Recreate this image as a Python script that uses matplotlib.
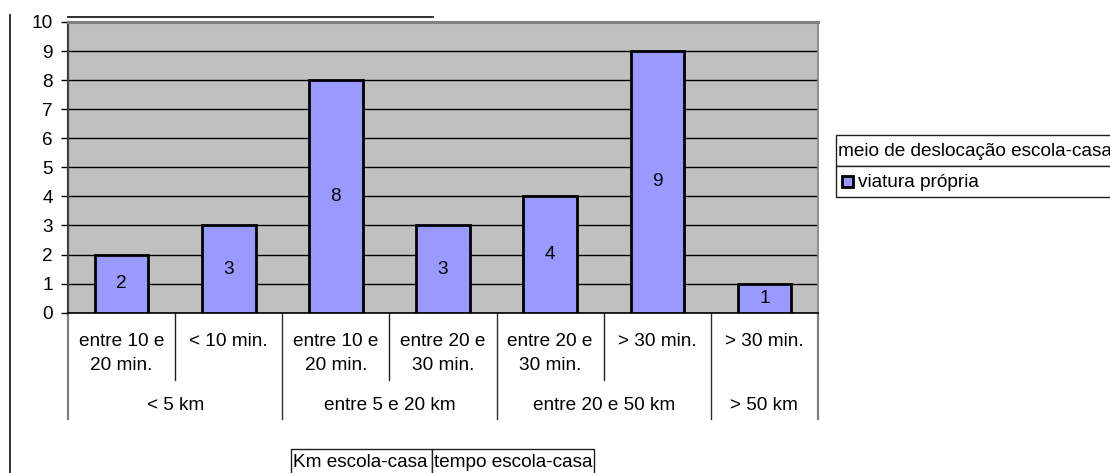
import matplotlib
matplotlib.use("Agg")
import matplotlib.pyplot as plt
from matplotlib import transforms
from matplotlib.patches import Rectangle

plt.rcParams['font.family'] = ['Liberation Sans', 'DejaVu Sans']

# Data
tempo_labels = ["entre 10 e\n20 min.", "< 10 min.", "entre 10 e\n20 min.",
                "entre 20 e\n30 min.", "entre 20 e\n30 min.", "> 30 min.", "> 30 min."]
values = [2, 3, 8, 3, 4, 9, 1]
km_groups = ["< 5 km", "entre 5 e 20 km", "entre 20 e 50 km", "> 50 km"]
km_group_sizes = [2, 2, 2, 1]
series_name = "viatura própria"
legend_title = "meio de deslocação escola-casa"
field_labels = ["Km escola-casa", "tempo escola-casa"]
y_ticks = list(range(0, 11))

W, H = 1110, 473
FS = 13.7
fig = plt.figure(figsize=(W / 100, H / 100), dpi=100)
fig.patch.set_facecolor("white")

# pixel-space overlay for the decorations (y grows downward)
over = fig.add_axes([0, 0, 1, 1], zorder=0)
over.set_xlim(0, W)
over.set_ylim(H, 0)
over.axis("off")

# main plot area
px_left, px_right, px_top, px_bottom = 68, 818, 22, 312.7
ax = fig.add_axes([px_left / W, (H - px_bottom) / H,
                   (px_right - px_left) / W, (px_bottom - px_top) / H], zorder=2)
ax.set_facecolor("#C0C0C0")
x = list(range(len(values)))
ax.bar(x, values, width=0.5, color="#9999FF", edgecolor="black",
       linewidth=2.0, zorder=3)
for xi, v in zip(x, values):
    ax.text(xi, v / 2, str(v), ha="center", va="center", fontsize=FS, zorder=4)

ax.set_xlim(-0.5, len(values) - 0.5)
ax.set_ylim(0, 10)
ax.set_yticks(y_ticks)
ax.set_yticklabels([str(t) for t in y_ticks], fontsize=FS)
ax.tick_params(axis="y", direction="out", length=5, width=1, pad=6, color="black")
ax.set_xticks([])
ax.yaxis.grid(True, color="black", linewidth=1)
ax.set_axisbelow(True)
ax.spines["left"].set_color("#404040")
ax.spines["left"].set_linewidth(1.6)
ax.spines["top"].set_color("#808080")
ax.spines["top"].set_linewidth(2.2)
ax.spines["right"].set_color("#808080")
ax.spines["right"].set_linewidth(1.2)
ax.spines["bottom"].set_color("black")
ax.spines["bottom"].set_linewidth(1.2)

# category axis below: x in data units, y in pixels
over2 = fig.add_axes([0, 0, 1, 1], zorder=1)
over2.set_xlim(0, W)
over2.set_ylim(H, 0)
over2.axis("off")
bt = transforms.blended_transform_factory(ax.transData, over2.transData)

for xi, lab in zip(x, tempo_labels):
    over2.text(xi, 333, lab, transform=bt, ha="center", va="top",
               fontsize=FS, linespacing=1.55)

start = 0
group_edges = [-0.5]
for name, size in zip(km_groups, km_group_sizes):
    centre = start + (size - 1) / 2
    over2.text(centre, 405, name, transform=bt, ha="center", va="center", fontsize=FS)
    # inner separators within the group
    for k in range(1, size):
        bx = start + k - 0.5
        over2.plot([bx, bx], [313, 380], transform=bt, color="#202020", lw=1)
    start += size
    group_edges.append(start - 0.5)

for i, gx in enumerate(group_edges):
    outer = i in (0, len(group_edges) - 1)
    over2.plot([gx, gx], [313, 419], transform=bt,
               color="#808080" if outer else "#303030", lw=1.6 if outer else 1)

# frame lines around the chart
over.plot([10, 10], [15, H], color="#202020", lw=1.3)
over.plot([68, 433], [17, 17], color="#202020", lw=1.3)

# legend
lx0, lx1 = 836, W + 5
over.add_patch(Rectangle((lx0, 135), lx1 - lx0, 31, facecolor="white",
                         edgecolor="#202020", lw=1))
over.add_patch(Rectangle((lx0, 166), lx1 - lx0, 31, facecolor="white",
                         edgecolor="#202020", lw=1))
over.text(lx0 + 2, 151, legend_title, ha="left", va="center", fontsize=FS)
over.add_patch(Rectangle((842, 175.5), 11, 11, facecolor="#9999FF",
                         edgecolor="black", lw=2.0))
over.text(858.5, 182, series_name, ha="left", va="center", fontsize=FS)

# field buttons at the bottom
for (bx0, bx1), lab in zip([(291, 432), (432, 594)], field_labels):
    over.add_patch(Rectangle((bx0, 449), bx1 - bx0, 30, facecolor="white",
                             edgecolor="#202020", lw=1))
    over.text(bx0 + 2, 462, lab, ha="left", va="center", fontsize=FS)

fig.savefig("out.png", dpi=100, facecolor="white")
